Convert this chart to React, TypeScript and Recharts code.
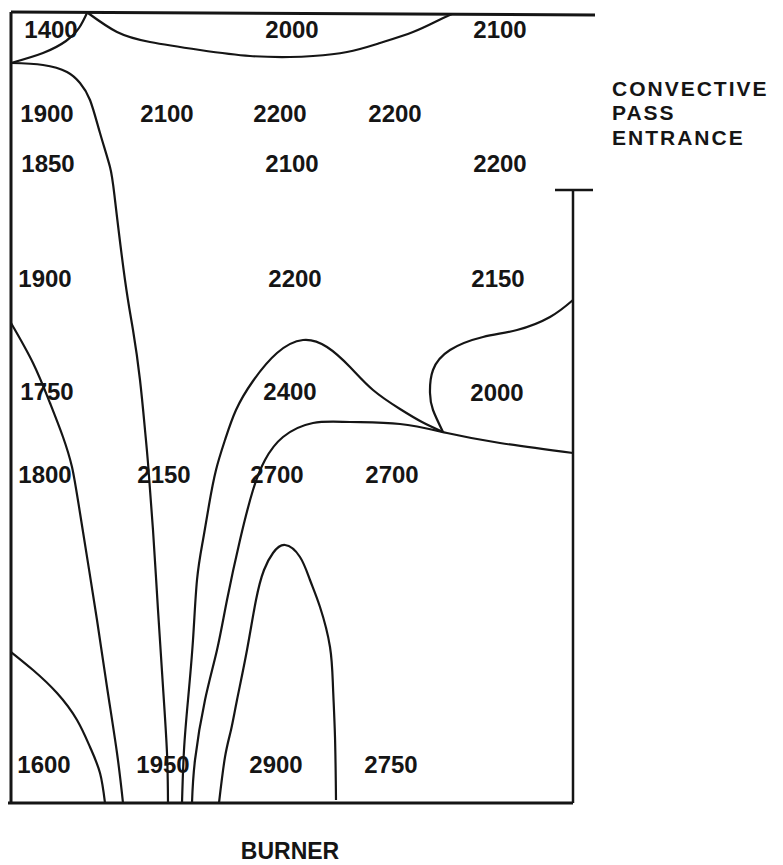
import {
  ComposedChart,
  Line,
  Scatter,
  XAxis,
  YAxis,
  ReferenceLine,
} from 'recharts'

// furnace coordinates: x from the left wall, y = height above the burner floor
type Pt = { x: number; y: number }
type Tag = { x: number; y: number; text: string }

const curve1400: Pt[] = [
  { x: 0, y: 740 }, { x: 32, y: 750 }, { x: 55, y: 762 }, { x: 68, y: 775 }, { x: 76, y: 790 },
]

const curve2000Top: Pt[] = [
  { x: 77, y: 790 }, { x: 106, y: 771 }, { x: 139, y: 761 }, { x: 189, y: 753 },
  { x: 239, y: 747 }, { x: 279, y: 746 }, { x: 302, y: 747 }, { x: 336, y: 751 },
  { x: 369, y: 760 }, { x: 402, y: 771 }, { x: 426, y: 782 }, { x: 441, y: 789 },
]

const curve1900: Pt[] = [
  { x: 0, y: 740 }, { x: 32, y: 738 }, { x: 56, y: 731 }, { x: 69, y: 720 },
  { x: 79, y: 703 }, { x: 89, y: 670 }, { x: 99, y: 636 }, { x: 104, y: 603 },
  { x: 114, y: 523 }, { x: 122, y: 473 }, { x: 129, y: 423 }, { x: 134, y: 373 },
  { x: 137, y: 340 }, { x: 142, y: 273 }, { x: 147, y: 193 }, { x: 152, y: 116 },
  { x: 156, y: 50 }, { x: 157, y: 0 },
]

const curve1750: Pt[] = [
  { x: 0, y: 480 }, { x: 22, y: 440 }, { x: 39, y: 400 }, { x: 52, y: 366 },
  { x: 61, y: 336 }, { x: 69, y: 290 }, { x: 86, y: 183 }, { x: 96, y: 116 },
  { x: 106, y: 50 }, { x: 112, y: 0 },
]

const curve1600: Pt[] = [
  { x: 0, y: 151 }, { x: 22, y: 133 }, { x: 46, y: 110 }, { x: 66, y: 83 },
  { x: 79, y: 56 }, { x: 89, y: 30 }, { x: 94, y: 0 },
]

const curve2400: Pt[] = [
  { x: 171, y: 0 }, { x: 173, y: 53 }, { x: 177, y: 103 }, { x: 182, y: 163 },
  { x: 186, y: 223 }, { x: 192, y: 263 }, { x: 198, y: 298 }, { x: 205, y: 333 },
  { x: 214, y: 363 }, { x: 225, y: 393 }, { x: 242, y: 422 }, { x: 266, y: 450 },
  { x: 292, y: 463 }, { x: 316, y: 456 }, { x: 339, y: 436 }, { x: 362, y: 413 },
  { x: 389, y: 394 }, { x: 411, y: 381 }, { x: 432, y: 371 },
]

const curve2700: Pt[] = [
  { x: 181, y: 0 }, { x: 184, y: 43 }, { x: 194, y: 103 }, { x: 206, y: 153 },
  { x: 216, y: 203 }, { x: 229, y: 263 }, { x: 242, y: 313 }, { x: 254, y: 343 },
  { x: 272, y: 366 }, { x: 302, y: 380 }, { x: 339, y: 381 }, { x: 389, y: 379 },
  { x: 436, y: 370 }, { x: 489, y: 360 }, { x: 562, y: 350 },
]

const curve2900: Pt[] = [
  { x: 208, y: 0 }, { x: 214, y: 46 }, { x: 220, y: 73 }, { x: 226, y: 103 },
  { x: 236, y: 153 }, { x: 245, y: 203 }, { x: 253, y: 233 }, { x: 262, y: 250 },
  { x: 274, y: 258 }, { x: 289, y: 246 }, { x: 299, y: 223 }, { x: 309, y: 196 },
  { x: 319, y: 156 }, { x: 322, y: 116 }, { x: 324, y: 66 }, { x: 325, y: 3 },
]

const curve2000Right: Pt[] = [
  { x: 562, y: 503 }, { x: 539, y: 486 }, { x: 506, y: 473 }, { x: 472, y: 466 },
  { x: 439, y: 453 }, { x: 422, y: 433 }, { x: 419, y: 410 }, { x: 422, y: 393 },
  { x: 432, y: 371 },
]

const contours = [
  curve1400, curve2000Top, curve1900, curve1750, curve1600,
  curve2400, curve2700, curve2900, curve2000Right,
]

const temps: Tag[] = [
  { x: 40, y: 765, text: '1400' },
  { x: 281, y: 765, text: '2000' },
  { x: 489, y: 765, text: '2100' },
  { x: 36, y: 681, text: '1900' },
  { x: 156, y: 681, text: '2100' },
  { x: 269, y: 681, text: '2200' },
  { x: 384, y: 681, text: '2200' },
  { x: 37, y: 631, text: '1850' },
  { x: 281, y: 631, text: '2100' },
  { x: 489, y: 631, text: '2200' },
  { x: 34, y: 516, text: '1900' },
  { x: 284, y: 516, text: '2200' },
  { x: 487, y: 516, text: '2150' },
  { x: 36, y: 403, text: '1750' },
  { x: 279, y: 403, text: '2400' },
  { x: 486, y: 402, text: '2000' },
  { x: 34, y: 320, text: '1800' },
  { x: 153, y: 320, text: '2150' },
  { x: 266, y: 320, text: '2700' },
  { x: 381, y: 320, text: '2700' },
  { x: 33, y: 30, text: '1600' },
  { x: 152, y: 30, text: '1950' },
  { x: 265, y: 30, text: '2900' },
  { x: 380, y: 30, text: '2750' },
]

const notes: Tag[] = [
  { x: 601, y: 707, text: 'CONVECTIVE' },
  { x: 601, y: 683, text: 'PASS' },
  { x: 601, y: 658, text: 'ENTRANCE' },
]

const burnerNote: Tag[] = [{ x: 279, y: -56, text: 'BURNER' }]

const ink = '#151515'
const font = '"Liberation Sans", Arial, Helvetica, sans-serif'

const tagShape = (anchor: 'middle' | 'start', size = 24, spacing = 0) => (props: any) => (
  <text
    x={props.cx}
    y={props.cy}
    textAnchor={anchor}
    fontFamily={font}
    fontWeight='bold'
    fontSize={size}
    letterSpacing={spacing}
    fill={ink}
  >
    {props.payload.text}
  </text>
)

export default function App() {
  return (
    <div style={{ position: 'absolute', left: 0, top: 0, width: 783, height: 865, background: '#fff' }}>
      <ComposedChart width={783} height={865} margin={{ top: 0, right: 0, bottom: 0, left: 0 }}>
        <XAxis type='number' dataKey='x' domain={[-11, 772]} hide allowDataOverflow />
        <YAxis type='number' dataKey='y' domain={[-62, 803]} hide allowDataOverflow />

        {/* furnace outline */}
        <ReferenceLine segment={[{ x: 0, y: 791 }, { x: 584, y: 788 }]} stroke={ink} strokeWidth={3} ifOverflow='visible' />
        <ReferenceLine segment={[{ x: 0, y: 791 }, { x: 0, y: 0 }]} stroke={ink} strokeWidth={3} ifOverflow='visible' />
        <ReferenceLine segment={[{ x: -3, y: 0 }, { x: 562, y: 0 }]} stroke={ink} strokeWidth={3} ifOverflow='visible' />
        <ReferenceLine segment={[{ x: 562, y: 613 }, { x: 562, y: 0 }]} stroke={ink} strokeWidth={2.5} ifOverflow='visible' />
        <ReferenceLine segment={[{ x: 544, y: 613 }, { x: 582, y: 613 }]} stroke={ink} strokeWidth={2.5} ifOverflow='visible' />

        {contours.map((c, i) => (
          <Line
            key={i}
            data={c}
            dataKey='y'
            type='natural'
            dot={false}
            activeDot={false}
            stroke={ink}
            strokeWidth={2.2}
            isAnimationActive={false}
          />
        ))}

        <Scatter data={temps} dataKey='y' shape={tagShape('middle', 24)} isAnimationActive={false} />
        <Scatter data={notes} dataKey='y' shape={tagShape('start', 21, 2)} isAnimationActive={false} />
        <Scatter data={burnerNote} dataKey='y' shape={tagShape('middle', 23)} isAnimationActive={false} />
      </ComposedChart>
    </div>
  )
}
